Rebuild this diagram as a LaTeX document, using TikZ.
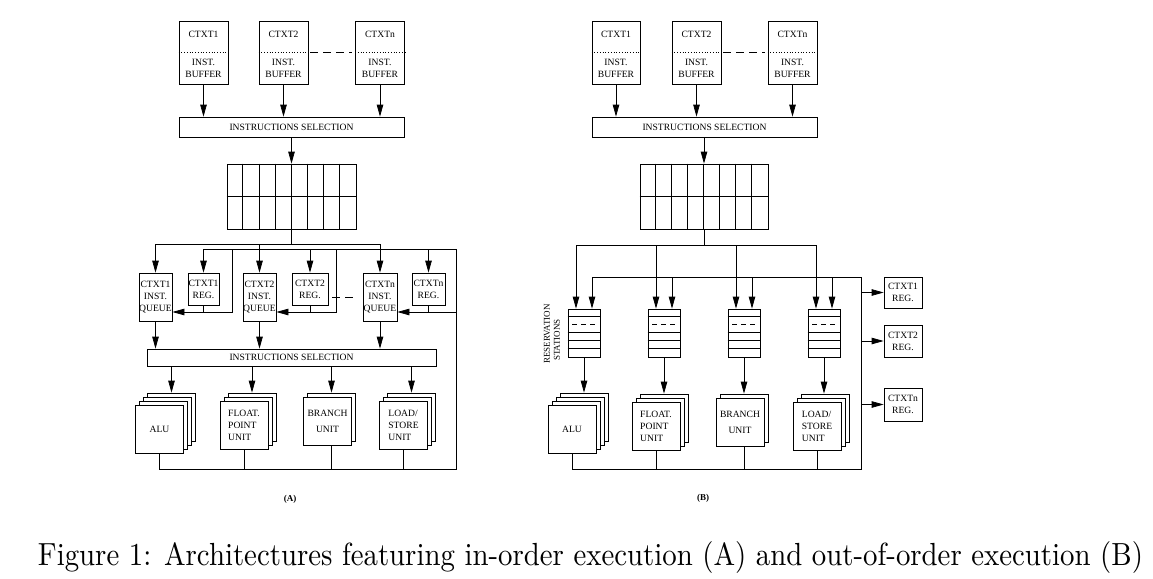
\documentclass[tikz,border=0pt]{standalone}
\usepackage{fontspec}
\usepackage{graphicx}
\newfontfamily\tms{Liberation Serif}
\usetikzlibrary{arrows.meta}
\newcommand{\ustack}[6]{%
  \foreach \k in {#4,...,1}{\node[ubox] (#1\k) at ({#2+4*\k},{#3-4*\k}) {};}
  \node[ubox,lab,#5] (#1) at (#2,#3) {#6};}
\begin{document}
\begin{tikzpicture}[x=1pt,y=-1pt,line width=0.75pt,
  lab/.style={font=\tms\fontsize{9.6}{12}\selectfont,inner sep=0pt,align=center},
  box/.style={draw,inner sep=0pt,lab},
  ubox/.style={draw,fill=white,minimum width=48pt,minimum height=48pt,inner sep=0pt},
  arr/.style={-{Triangle[length=12pt,width=6.5pt]}},
  gap/.style={dash pattern=on 8pt off 5pt},
  lbl/.style={font=\tms\bfseries\fontsize{9}{11}\selectfont,inner sep=0pt}]
\useasboundingbox (0,0) rectangle (1153,578);

% ================= (A) =================
\node[box,minimum width=49pt,minimum height=63pt] (bA1) at (203.5,52.5) {};
\node[box,minimum width=49pt,minimum height=63pt] (bA2) at (283.5,52.5) {};
\node[box,minimum width=49pt,minimum height=63pt] (bAn) at (380,52.5) {};
\node[lab] (tA1) at (203.5,34) {CTXT1};
\node[lab] (tA2) at (283.5,34) {CTXT2};
\node[lab] (tAn) at (380,34) {CTXTn};
\node[lab] (iA1) at (203.5,68) {INST.\\BUFFER};
\node[lab] (iA2) at (283.5,68) {INST.\\BUFFER};
\node[lab] (iAn) at (380,68) {INST.\\BUFFER};
\foreach \b in {bA1,bA2,bAn} \draw[dotted] (\b.west) -- (\b.east);
\draw[gap] ([xshift=2pt]bA2.east) -- ([xshift=-3pt]bAn.west);

\node[box,minimum width=225pt,minimum height=20pt] (selA) at (291.5,127) {INSTRUCTIONS SELECTION};
\foreach \b in {bA1,bA2,bAn} \draw[arr] (\b.south) -- (\b.south |- selA.north);

\node[draw,minimum width=129pt,minimum height=65pt,inner sep=0pt] (gA) at (291.5,196.5) {};
\foreach \i in {1,...,7} \draw (gA.north west) ++(\i*16.125,0) -- ++(0,65);
\draw[line width=1.6pt] (gA.west) -- (gA.east);
\draw[arr] (selA.south -| gA.north) -- (gA.north);

\node[box,minimum width=33pt,minimum height=48pt] (Q1) at (155.5,297) {CTXT1\\INST.\\QUEUE};
\node[box,minimum width=33pt,minimum height=48pt] (Q2) at (259.5,297) {CTXT2\\INST.\\QUEUE};
\node[box,minimum width=34pt,minimum height=48pt] (Qn) at (380,297) {CTXTn\\INST.\\QUEUE};
\node[box,minimum width=31pt,minimum height=32pt] (R1) at (203.5,289) {CTXT1\\REG.};
\node[box,minimum width=36pt,minimum height=32pt] (R2) at (310,289) {CTXT2\\REG.};
\node[box,minimum width=33pt,minimum height=32pt] (Rn) at (428.5,289) {CTXTn\\REG.};
\draw[gap] ([xshift=4pt]R2.east |- Qn.west) -- ([xshift=-5pt]Qn.west);

\coordinate (busA1) at (0,244);
\coordinate (busA2) at (0,249);
\coordinate (retA) at (456,0);
\coordinate (botA) at (0,469);
\coordinate (fbA) at (0,312);
\coordinate (dA1) at (232,0);
\coordinate (dA2) at (336,0);

\draw (gA.south) -- (gA.south |- busA1);
\draw (Q1.north |- busA1) -- (Qn.north |- busA1);
\foreach \q in {Q1,Q2,Qn} \draw[arr] (\q.north |- busA1) -- (\q.north);

\node[box,minimum width=289pt,minimum height=17pt] (selA2) at (291.5,357.5) {INSTRUCTIONS SELECTION};
\foreach \q in {Q1,Q2,Qn} \draw[arr] (\q.south) -- (\q.south |- selA2.north);

\ustack{uA1}{159.5}{429}{3}{}{ALU}
\ustack{uA2}{244}{425}{2}{align=left}{FLOAT.\\POINT\\UNIT}
\ustack{uA3}{327.5}{421}{1}{}{BRANCH\\[4pt]UNIT}
\ustack{uA4}{403.5}{425}{2}{align=left}{LOAD/\\STORE\\UNIT}
\foreach \u in {uA13,uA22,uA31,uA42} \draw[arr] (selA2.south -| \u.north) -- (\u.north);

% write-back loop
\draw (uA1.south) |- (retA |- botA) |- (R1.north |- busA2);
\draw (uA2.south) -- (uA2.south |- botA);
\draw (uA31.south |- uA3.south) -- (uA31.south |- botA);
\draw (uA4.south) -- (uA4.south |- botA);
\foreach \r in {R1,R2,Rn} \draw[arr] (\r.north |- busA2) -- (\r.north);
\draw[arr] (dA1 |- busA2) |- (Q1.east |- fbA);
\draw[arr] (dA2 |- busA2) |- (Q2.east |- fbA);
\draw[arr] (retA |- fbA) -- (Qn.east |- fbA);
\foreach \r in {R1,R2,Rn} \draw (\r.south) -- (\r.south |- fbA);

\node[lbl] (labA) at (290,499) {(A)};

% ================= (B) =================
\node[box,minimum width=48pt,minimum height=63pt] (bB1) at (616,52.5) {};
\node[box,minimum width=49pt,minimum height=63pt] (bB2) at (696.5,52.5) {};
\node[box,minimum width=49pt,minimum height=63pt] (bBn) at (792.5,52.5) {};
\node[lab] (tB1) at (616,34) {CTXT1};
\node[lab] (tB2) at (696.5,34) {CTXT2};
\node[lab] (tBn) at (792.5,34) {CTXTn};
\node[lab] (iB1) at (616,68) {INST.\\BUFFER};
\node[lab] (iB2) at (696.5,68) {INST.\\BUFFER};
\node[lab] (iBn) at (792.5,68) {INST.\\BUFFER};
\foreach \b in {bB1,bB2,bBn} \draw[dotted] (\b.west) -- (\b.east);
\draw[gap] ([xshift=2pt]bB2.east) -- ([xshift=-3pt]bBn.west);

\node[box,minimum width=225pt,minimum height=20pt] (selB) at (704.5,127) {INSTRUCTIONS SELECTION};
\foreach \b in {bB1,bB2,bBn} \draw[arr] (\b.south) -- (\b.south |- selB.north);

\node[draw,minimum width=128pt,minimum height=65pt,inner sep=0pt] (gB) at (704,196.5) {};
\foreach \i in {1,...,7} \draw (gB.north west) ++(\i*16,0) -- ++(0,65);
\draw[line width=1.6pt] (gB.west) -- (gB.east);
\draw[arr] (selB.south -| gB.north) -- (gB.north);

\foreach \n/\x in {rs1/584,rs2/664,rs3/744,rs4/824}{
  \node[draw,minimum width=32pt,minimum height=48pt,inner sep=0pt] (\n) at (\x,333) {};
  \foreach \dy in {8,24,32,40} \draw (\n.north west) ++(0,\dy) -- ++(32,0);
  \draw[dash pattern=on 5pt off 4pt] (\n.north west) ++(4.5,16) -- ++(23,0);
}
\node[lab,rotate=90,font=\tms\fontsize{9}{10}\selectfont] (rsvA) at (547,334) {RESERVATION};
\node[lab,rotate=90,font=\tms\fontsize{9}{10}\selectfont] (rsvB) at (557,340) {STATIONS};

\coordinate (busB1) at (0,245);
\coordinate (busB2) at (0,277);
\coordinate (retB) at (861,0);
\coordinate (botB) at (0,469);

\draw (gB.south) -- (gB.south |- busB1);
\draw ([xshift=-8pt]rs1.north |- busB1) -- ([xshift=-8pt]rs4.north |- busB1);
\foreach \n in {rs1,rs2,rs3,rs4}{
  \draw[arr] ([xshift=-8pt]\n.north |- busB1) -- ([xshift=-8pt]\n.north);
  \draw[arr] ([xshift=8pt]\n.north |- busB2) -- ([xshift=8pt]\n.north);
}

\ustack{uB1}{572}{429}{3}{}{ALU}
\ustack{uB2}{656}{426}{2}{align=left}{FLOAT.\\POINT\\UNIT}
\ustack{uB3}{740}{422}{1}{}{BRANCH\\[4pt]UNIT}
\ustack{uB4}{817}{426}{2}{align=left}{LOAD/\\STORE\\UNIT}
\foreach \n/\u in {rs1/uB13,rs2/uB22,rs3/uB31,rs4/uB42} \draw[arr] (\n.south) -- (\n.south |- \u.north);

\draw ([xshift=8pt]rs1.north |- busB2) -| (retB |- botB) -| (uB1.south);
\draw (uB2.south) -- (uB2.south |- botB);
\draw (uB31.south |- uB3.south) -- (uB31.south |- botB);
\draw (uB4.south) -- (uB4.south |- botB);

\node[box,minimum width=38pt,minimum height=31pt] (RB1) at (903,292.5) {CTXT1\\REG.};
\node[box,minimum width=38pt,minimum height=32pt] (RB2) at (903,341) {CTXT2\\REG.};
\node[box,minimum width=38pt,minimum height=33pt] (RBn) at (903,404.5) {CTXTn\\REG.};
\foreach \r in {RB1,RB2,RBn} \draw[arr] (retB |- \r.west) -- (\r.west);

\node[lbl] (labB) at (703,498) {(B)};

% ================= caption =================
\node[inner sep=0pt] (cap) at (590.5,557) {\resizebox{1105pt}{24pt}{Figure 1: Architectures featuring in-order execution (A) and out-of-order execution (B)}};
\end{tikzpicture}
\end{document}
